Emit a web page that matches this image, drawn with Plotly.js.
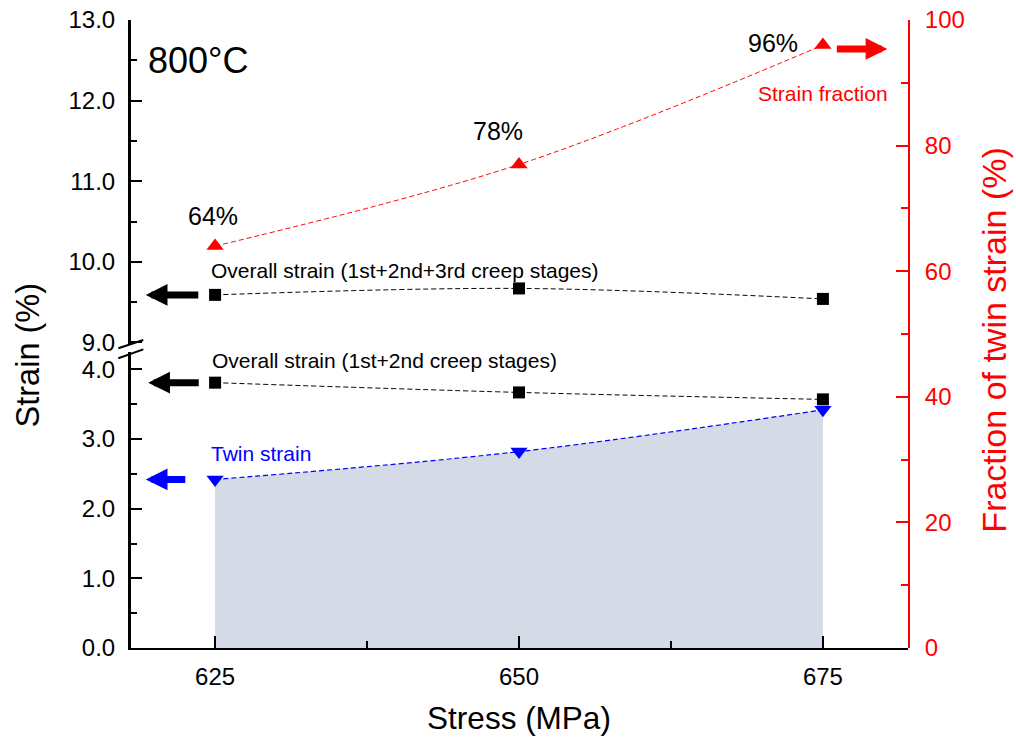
<!DOCTYPE html>
<html>
<head>
<meta charset="utf-8">
<script src="https://cdn.plot.ly/plotly-3.0.1.min.js"></script>
<style>html,body{margin:0;padding:0;background:#fff;}#chart{width:1016px;height:743px;}</style>
</head>
<body>
<div id="chart"></div>
<script>
// ---- data ----
const stress = [625, 650, 675];
const overall123 = [9.59, 9.67, 9.54];   // upper left axis (%)
const overall12 = [3.81, 3.67, 3.57];    // lower left axis (%)
const twin = [2.42, 2.82, 3.42];         // lower left axis (%)
const fraction = [64, 77, 96];           // right axis (%)
const fractionLabels = ['64%', '78%', '96%'];
const xTicks = [625, 650, 675];

const FONT = 'Liberation Sans, Arial, sans-serif';
const RED = '#ff0000', BLUE = '#0000ff';

const traces = [
  {x: stress, y: twin, xaxis: 'x', yaxis: 'y2', mode: 'lines', line: {shape: 'spline', width: 0, color: 'rgba(0,0,0,0)'},
   fill: 'tozeroy', fillcolor: '#d5dbe6', hoverinfo: 'skip', showlegend: false},
  {x: stress, y: twin, xaxis: 'x', yaxis: 'y2', mode: 'lines+markers',
   line: {shape: 'spline', width: 1.2, color: BLUE, dash: '5px,3px'},
   marker: {symbol: 'triangle-down', size: 15, color: BLUE}, showlegend: false},
  {x: stress, y: overall12, xaxis: 'x', yaxis: 'y2', mode: 'lines+markers',
   line: {shape: 'spline', width: 1, color: '#000', dash: '5px,3px'},
   marker: {symbol: 'square', size: 12, color: '#000'}, showlegend: false},
  {x: stress, y: overall123, xaxis: 'x', yaxis: 'y3', mode: 'lines+markers',
   line: {shape: 'spline', width: 1, color: '#000', dash: '5px,3px'},
   marker: {symbol: 'square', size: 12, color: '#000'}, showlegend: false},
  {x: stress, y: fraction, xaxis: 'x', yaxis: 'y', mode: 'lines+markers',
   line: {shape: 'spline', width: 1, color: RED, dash: '5px,3px'},
   marker: {symbol: 'triangle-up', size: 15, color: RED}, showlegend: false}
];

const tickCommon = {ticks: 'inside', ticklen: 12, tickwidth: 2, showgrid: false, zeroline: false, linewidth: 2, showline: true, fixedrange: true};

const annotations = [];
// percentage labels on red points
const lblShift = [[-2, 30], [-21, 33], [-50, 2]];
fraction.forEach((v, i) => {
  annotations.push({x: stress[i], y: v, xref: 'x', yref: 'y', text: fractionLabels[i], showarrow: false,
    xshift: lblShift[i][0], yshift: lblShift[i][1], font: {size: 25, color: '#000', family: FONT}});
});
annotations.push({x: stress[2], y: fraction[2], xref: 'x', yref: 'y', text: 'Strain fraction', showarrow: false,
  xshift: 0, yshift: -48, font: {size: 21, color: RED, family: FONT}});
annotations.push({x: stress[0], y: overall123[0], xref: 'x', yref: 'y3', text: 'Overall strain (1st+2nd+3rd creep stages)',
  showarrow: false, xanchor: 'left', xshift: -6, yshift: 24, font: {size: 21, color: '#000', family: FONT}});
annotations.push({x: stress[0], y: overall12[0], xref: 'x', yref: 'y2', text: 'Overall strain (1st+2nd creep stages)',
  showarrow: false, xanchor: 'left', xshift: -5, yshift: 22, font: {size: 21, color: '#000', family: FONT}});
annotations.push({x: stress[0], y: twin[0], xref: 'x', yref: 'y2', text: 'Twin strain',
  showarrow: false, xanchor: 'left', xshift: -6, yshift: 26, font: {size: 21, color: BLUE, family: FONT}});
annotations.push({x: 0.02, y: 0.936, xref: 'paper', yref: 'paper', text: '800°C', showarrow: false,
  xanchor: 'left', yanchor: 'middle', font: {size: 36, color: '#000', family: FONT}});
annotations.push({x: -0.131, y: 0.466, xref: 'paper', yref: 'paper', text: 'Strain (%)', showarrow: false,
  xanchor: 'center', yanchor: 'middle', textangle: -90, font: {size: 32.5, color: '#000', family: FONT}});
annotations.push({x: 1.111, y: 0.49, xref: 'paper', yref: 'paper', text: 'Fraction of twin strain (%)', showarrow: false,
  xanchor: 'center', yanchor: 'middle', textangle: -90, font: {size: 34, color: RED, family: FONT}});
// direction arrows
const arrow = (x, y, yref, ax, color) => ({x: x, y: y, xref: 'x', yref: yref, ax: ax, ay: 0, text: '',
  showarrow: true, arrowhead: 2, arrowwidth: 7, arrowsize: 0.62, arrowcolor: color});
annotations.push(arrow(619.3, overall123[0], 'y3', 54, '#000'));
annotations.push(arrow(619.5, overall12[0], 'y2', 52, '#000'));
annotations.push(arrow(619.3, twin[0], 'y2', 41, BLUE));
annotations.push(arrow(680.3, 95.4, 'y', -52, RED));

const layout = {
  width: 1016, height: 743,
  margin: {l: 130, r: 108, t: 20, b: 95},
  paper_bgcolor: '#fff', plot_bgcolor: 'rgba(0,0,0,0)',
  font: {family: FONT, size: 24, color: '#000'},
  showlegend: false,
  xaxis: Object.assign({}, tickCommon, {
    range: [618, 682], anchor: 'y2', linecolor: '#000', tickcolor: '#000',
    tickmode: 'array', tickvals: xTicks, ticktext: xTicks.map(String),
    minor: {tickvals: [637.5, 662.5], ticks: 'inside', ticklen: 7, tickwidth: 2, tickcolor: '#000'},
    tickfont: {size: 24}, ticklabelstandoff: 6,
    title: {text: 'Stress (MPa)', font: {size: 31.5}, standoff: 18}
  }),
  xaxis2: Object.assign({}, tickCommon, {
    range: [618, 682], overlaying: 'x', side: 'top', anchor: 'y', linecolor: RED, tickcolor: RED,
    tickmode: 'array', tickvals: xTicks, showticklabels: false,
    minor: {tickvals: [637.5, 662.5], ticks: 'inside', ticklen: 7, tickwidth: 2, tickcolor: RED}
  }),
  yaxis: Object.assign({}, tickCommon, {
    domain: [0, 1], range: [0, 100], side: 'right', anchor: 'x', linecolor: RED, tickcolor: RED,
    tickmode: 'linear', tick0: 0, dtick: 20,
    minor: {dtick: 10, ticks: 'inside', ticklen: 7, tickwidth: 2, tickcolor: RED},
    tickfont: {size: 24, color: RED}, ticklabelstandoff: 10
  }),
  yaxis2: Object.assign({}, tickCommon, {
    domain: [0, 0.4713], range: [0, 4.25], side: 'left', anchor: 'x', linecolor: '#000', tickcolor: '#000',
    tickmode: 'linear', tick0: 0, dtick: 1, tickformat: '.1f',
    minor: {dtick: 0.5, ticks: 'inside', ticklen: 7, tickwidth: 2, tickcolor: '#000'},
    tickfont: {size: 24}, ticklabelstandoff: 8
  }),
  yaxis3: Object.assign({}, tickCommon, {
    domain: [0.484, 1], range: [8.98, 13.0], side: 'left', anchor: 'x', linecolor: '#000', tickcolor: '#000',
    tickmode: 'linear', tick0: 9, dtick: 1, tickformat: '.1f',
    minor: {dtick: 0.5, ticks: 'inside', ticklen: 7, tickwidth: 2, tickcolor: '#000'},
    tickfont: {size: 24}, ticklabelstandoff: 8
  }),
  shapes: [
    {type: 'line', xref: 'paper', yref: 'paper', x0: 0, y0: 0, x1: 0, y1: 0.4713, line: {color: '#000', width: 2}},
    {type: 'line', xref: 'paper', yref: 'paper', x0: 0, y0: 0.484, x1: 0, y1: 1, line: {color: '#000', width: 2}},
    {type: 'line', xref: 'paper', yref: 'paper', x0: -0.015, y0: 0.4772, x1: 0.0171, y1: 0.4904, line: {color: '#000', width: 2}},
    {type: 'line', xref: 'paper', yref: 'paper', x0: -0.015, y0: 0.4613, x1: 0.0171, y1: 0.4756, line: {color: '#000', width: 2}}
  ],
  annotations: annotations
};

Plotly.newPlot('chart', traces, layout, {staticPlot: true, displayModeBar: false});
</script>
</body>
</html>
